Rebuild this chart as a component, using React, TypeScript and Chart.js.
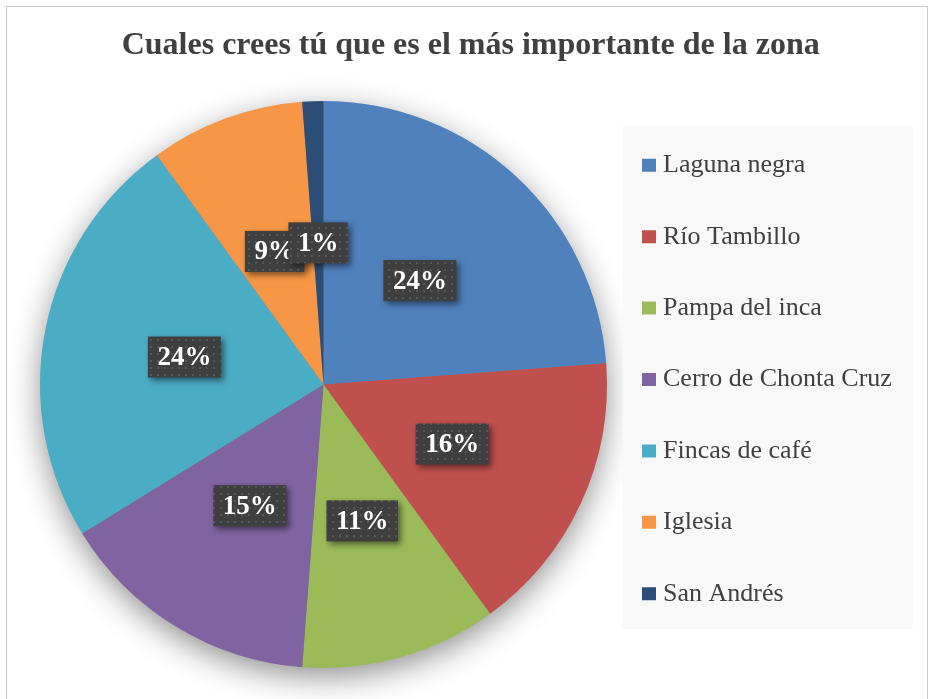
import { useEffect, useRef } from 'react';
import { Chart, registerables, DoughnutController } from 'chart.js';

Chart.register(...registerables);

const titleText = 'Cuales crees tú que es el más importante de la zona';
const categories = [
  'Laguna negra',
  'Río Tambillo',
  'Pampa del inca',
  'Cerro de Chonta Cruz',
  'Fincas de café',
  'Iglesia',
  'San Andrés',
];
const shares = [23.8, 16.2, 11.2, 15.0, 23.8, 8.8, 1.2];
const colors = ['#4f81bd', '#c0504d', '#9bbb59', '#8064a2', '#4bacc6', '#f79646', '#2c4d75'];

const LEGEND_FONT = 26;
const LEGEND_PAD = 45.4;
const LEGEND_SHIFT = 3;

function makeDotPattern(ctx: CanvasRenderingContext2D) {
  const c = document.createElement('canvas');
  c.width = 7;
  c.height = 7;
  const p = c.getContext('2d')!;
  p.fillStyle = '#3f3f3f';
  p.fillRect(0, 0, 7, 7);
  p.fillStyle = '#575757';
  p.fillRect(3, 3, 2, 2);
  return ctx.createPattern(c, 'repeat') || '#404040';
}

const backdrop = {
  id: 'backdrop',
  beforeDraw(chart: any) {
    const ctx = chart.ctx as CanvasRenderingContext2D;
    const arc = chart.getDatasetMeta(0).data[0];
    if (arc) {
      const { x, y, outerRadius } = arc;
      ctx.save();
      ctx.shadowColor = 'rgba(0,0,0,0.45)';
      ctx.shadowBlur = 32;
      ctx.shadowOffsetY = 9;
      ctx.beginPath();
      ctx.arc(x, y, outerRadius - 1, 0, Math.PI * 2);
      ctx.fillStyle = '#808080';
      ctx.fill();
      ctx.restore();
    }
    const lg = chart.legend;
    if (lg) {
      const n = chart.data.labels.length;
      const px = lg.left + LEGEND_PAD - 25.3;
      const py = lg.top + LEGEND_PAD - 23.4;
      const ph = n * (LEGEND_FONT + LEGEND_PAD) - LEGEND_PAD + 46 + LEGEND_SHIFT;
      ctx.save();
      ctx.fillStyle = '#f8f8f8';
      ctx.fillRect(px, py, 290, ph);
      ctx.restore();
    }
  },
};

const dataLabels = {
  id: 'dataLabels',
  afterDatasetsDraw(chart: any) {
    const ctx = chart.ctx as CanvasRenderingContext2D;
    const data: number[] = chart.data.datasets[0].data;
    const total = data.reduce((a, b) => a + b, 0);
    const meta = chart.getDatasetMeta(0);
    const pattern = makeDotPattern(ctx);
    ctx.save();
    ctx.font = 'bold 27px "Liberation Serif"';
    ctx.textAlign = 'center';
    ctx.textBaseline = 'middle';
    meta.data.forEach((arc: any, i: number) => {
      const txt = Math.round((data[i] / total) * 100) + '%';
      const pt = arc.getCenterPoint();
      const w = ctx.measureText(txt).width + 19;
      const h = 41;
      ctx.save();
      ctx.shadowColor = 'rgba(0,0,0,0.5)';
      ctx.shadowBlur = 6;
      ctx.shadowOffsetX = 3;
      ctx.shadowOffsetY = 3;
      ctx.fillStyle = pattern;
      ctx.fillRect(pt.x - w / 2, pt.y - h / 2, w, h);
      ctx.restore();
      ctx.fillStyle = '#ffffff';
      ctx.fillText(txt, pt.x, pt.y + 1);
    });
    ctx.restore();
  },
};

const baseGenerate = (DoughnutController as any).overrides.plugins.legend.labels.generateLabels;

export default function App() {
  const canvasRef = useRef<HTMLCanvasElement | null>(null);

  useEffect(() => {
    if (!canvasRef.current) return;
    const chart = new Chart(canvasRef.current, {
      type: 'pie',
      data: {
        labels: categories,
        datasets: [
          {
            data: shares,
            backgroundColor: colors,
            borderWidth: 0,
          },
        ],
      },
      options: {
        animation: false,
        responsive: true,
        maintainAspectRatio: false,
        radius: 283.5,
        layout: {
          padding: { left: 37.4, right: 31, top: 0, bottom: 33.9 },
        },
        plugins: {
          title: {
            display: true,
            text: titleText,
            color: '#404040',
            font: { family: '"Liberation Serif", "Times New Roman", serif', size: 32, weight: 'bold' },
            padding: { top: 19.3, bottom: 39.2 },
          },
          legend: {
            display: true,
            position: 'right',
            align: 'start',
            fullSize: false,
            maxWidth: 294.4,
            title: {
              display: true,
              text: ' ',
              font: { size: 1, lineHeight: 1 },
              padding: { top: 0, bottom: LEGEND_SHIFT - 1 },
            },
            labels: {
              color: '#404040',
              font: { family: '"Liberation Serif", "Times New Roman", serif', size: LEGEND_FONT },
              boxWidth: 2,
              boxHeight: 1,
              padding: LEGEND_PAD,
              textAlign: 'left',
              generateLabels: (c: any) =>
                baseGenerate(c).map((l: any) => ({
                  ...l,
                  lineWidth: 12,
                  strokeStyle: l.fillStyle,
                  lineJoin: 'miter',
                  lineDash: [],
                })),
            },
          },
          tooltip: { enabled: false },
        },
      } as any,
      plugins: [backdrop, dataLabels],
    });
    return () => chart.destroy();
  }, []);

  return (
    <>
      <div
        style={{
          position: 'fixed',
          left: 6,
          top: 6,
          width: 920,
          height: 720,
          border: '1px solid #c8c8c8',
          background: '#ffffff',
        }}
      />
      <div style={{ position: 'fixed', left: 7, top: 7, width: 921, height: 692 }}>
        <canvas ref={canvasRef} />
      </div>
    </>
  );
}
